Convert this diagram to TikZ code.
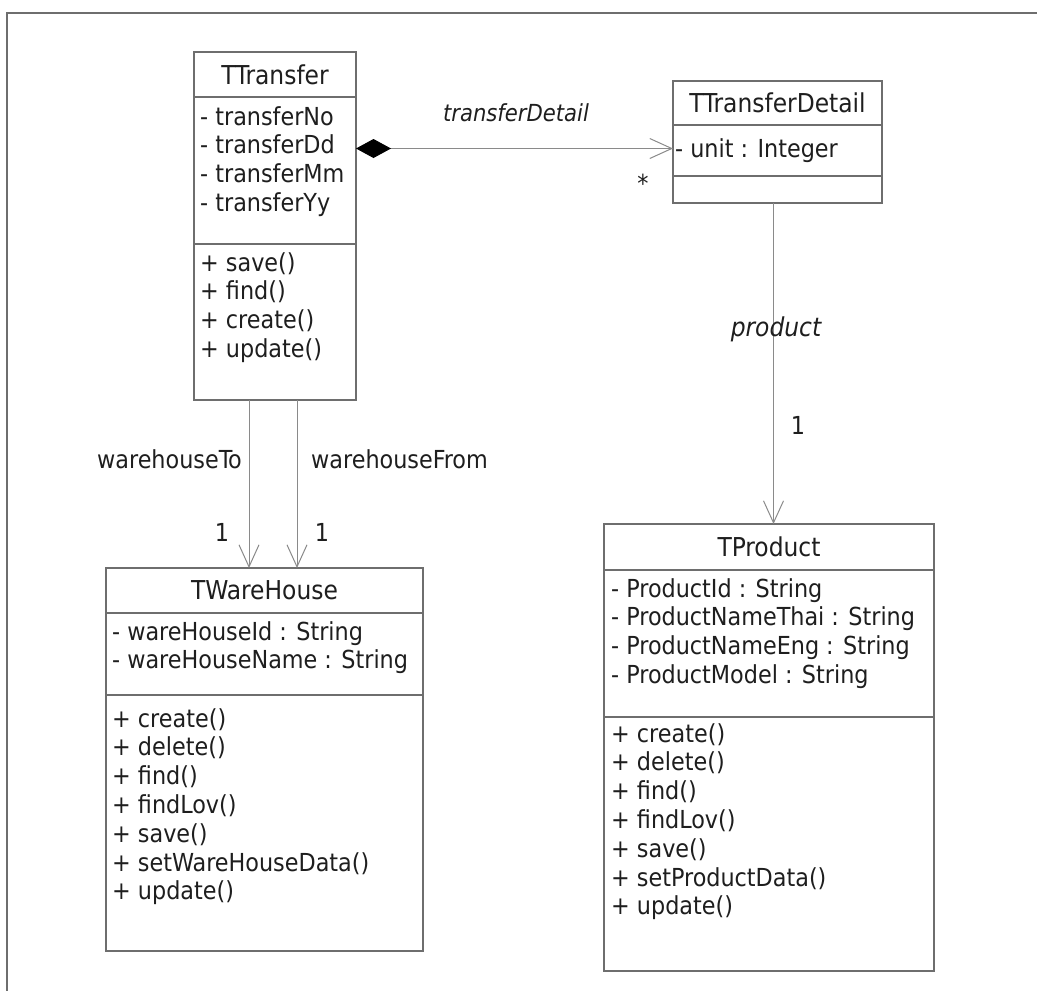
\documentclass[tikz,border=0pt]{standalone}
\usepackage{fontspec}
\setmainfont{DejaVu Sans Condensed}
\usepackage{tikz}
\usetikzlibrary{
  arrows.meta,
  positioning
}
\definecolor{boxline}{HTML}{6E6E6E}
\definecolor{assocline}{HTML}{8A8A8A}
\definecolor{umltext}{HTML}{1E1E1E}
\newcommand{\umlfont}{\fontsize{26}{28.8}\selectfont}
\newcommand{\memberfont}{\fontsize{24.8}{28.8}\selectfont}
% one member per line, baselines 28.8pt apart
\newcommand{\members}[4]{%
  \foreach \m [count=\i] in {#4}{
    \pgfmathsetmacro{\dy}{#3+28.8*(\i-1)}
    \node[member] (#1-\i) at ([xshift=#2pt, yshift=-\dy pt]#1.north west) {\m};
  }}

\begin{document}
\begin{tikzpicture}[
  x=1pt, y=1pt,
  cbox/.style={draw=boxline, line width=1.3pt, fill=white, inner sep=0pt, outer sep=0pt, anchor=north west},
  ctitle/.style={cbox, font=\umlfont, text=umltext},
  member/.style={font=\memberfont, text=umltext, anchor=base west, inner sep=0pt},
  rolelbl/.style={font=\memberfont, text=umltext, inner sep=0pt},
  assoc/.style={draw=assocline, line width=1pt, -{Straight Barb[length=22pt, width=20pt]}},
  comp/.style={assoc, {Diamond[length=35pt, width=19pt, fill=black, color=black]}-{Straight Barb[length=22pt, width=20pt]}},
]
  \useasboundingbox (0,0) rectangle (1037,-991);

  % frame
  \draw[boxline, line width=1.6pt] (1037,-13) -- (7,-13) -- (7,-991);

  % TTransfer
  \node[ctitle, minimum width=162pt, minimum height=45pt] (trT) at (194,-52) {TTransfer};
  \node[cbox, minimum width=162pt, minimum height=147pt, below=0pt of trT] (trA) {};
  \node[cbox, minimum width=162pt, minimum height=156pt, below=0pt of trA] (trM) {};
  \members{trA}{6}{28}{- transferNo, - transferDd, - transferMm, - transferYy}
  \members{trM}{6}{27}{+ save(), + find(), + create(), + update()}

  % TTransferDetail
  \node[ctitle, minimum width=209pt, minimum height=44pt] (tdT) at (673,-81) {TTransferDetail};
  \node[cbox, minimum width=209pt, minimum height=51pt, below=0pt of tdT] (tdA) {};
  \node[cbox, minimum width=209pt, minimum height=27pt, below=0pt of tdA] (tdM) {};
  \members{tdA}{2}{32}{- unit : Integer}

  % TWareHouse
  \node[ctitle, minimum width=317pt, minimum height=45pt] (whT) at (106,-568) {TWareHouse};
  \node[cbox, minimum width=317pt, minimum height=82pt, below=0pt of whT] (whA) {};
  \node[cbox, minimum width=317pt, minimum height=256pt, below=0pt of whA] (whM) {};
  \members{whA}{6}{27}{- wareHouseId : String, - wareHouseName : String}
  \members{whM}{6}{32}{+ create(), + delete(), + find(), + findLov(), + save(), + setWareHouseData(), + update()}

  % TProduct
  \node[ctitle, minimum width=330pt, minimum height=46pt] (prT) at (604,-524) {TProduct};
  \node[cbox, minimum width=330pt, minimum height=147pt, below=0pt of prT] (prA) {};
  \node[cbox, minimum width=330pt, minimum height=254pt, below=0pt of prA] (prM) {};
  \members{prA}{7}{27}{- ProductId : String, - ProductNameThai : String, - ProductNameEng : String, - ProductModel : String}
  \members{prM}{7}{25}{+ create(), + delete(), + find(), + findLov(), + save(), + setProductData(), + update()}

  % Associations
  \draw[comp] (trA.east |- tdA.west) ++(0,2) -- ([yshift=2pt]tdA.west);
  \draw[assoc] ([xshift=-26pt]trM.south) -- ([xshift=-26pt]trM.south |- whT.north);
  \draw[assoc] ([xshift=22pt]trM.south) -- ([xshift=22pt]trM.south |- whT.north);
  \draw[assoc] ([xshift=-4pt]tdM.south) -- ([xshift=-4pt]tdM.south |- prT.north);

  % Role names and multiplicities
  \node[rolelbl, font=\fontsize{23.5}{28}\selectfont\itshape] (lblDetail) at (516,-113) {transferDetail};
  \node[rolelbl] (multDetail) at (643,-183) {*};
  \node[rolelbl, font=\umlfont\itshape] (lblProduct) at (776,-329) {product};
  \node[rolelbl] (multProduct) at (798,-425) {1};
  \node[rolelbl, anchor=east] (lblTo) at (242,-459) {warehouseTo};
  \node[rolelbl, anchor=west] (lblFrom) at (311,-459) {warehouseFrom};
  \node[rolelbl] (multTo) at (222,-532) {1};
  \node[rolelbl] (multFrom) at (322,-532) {1};
\end{tikzpicture}
\end{document}
